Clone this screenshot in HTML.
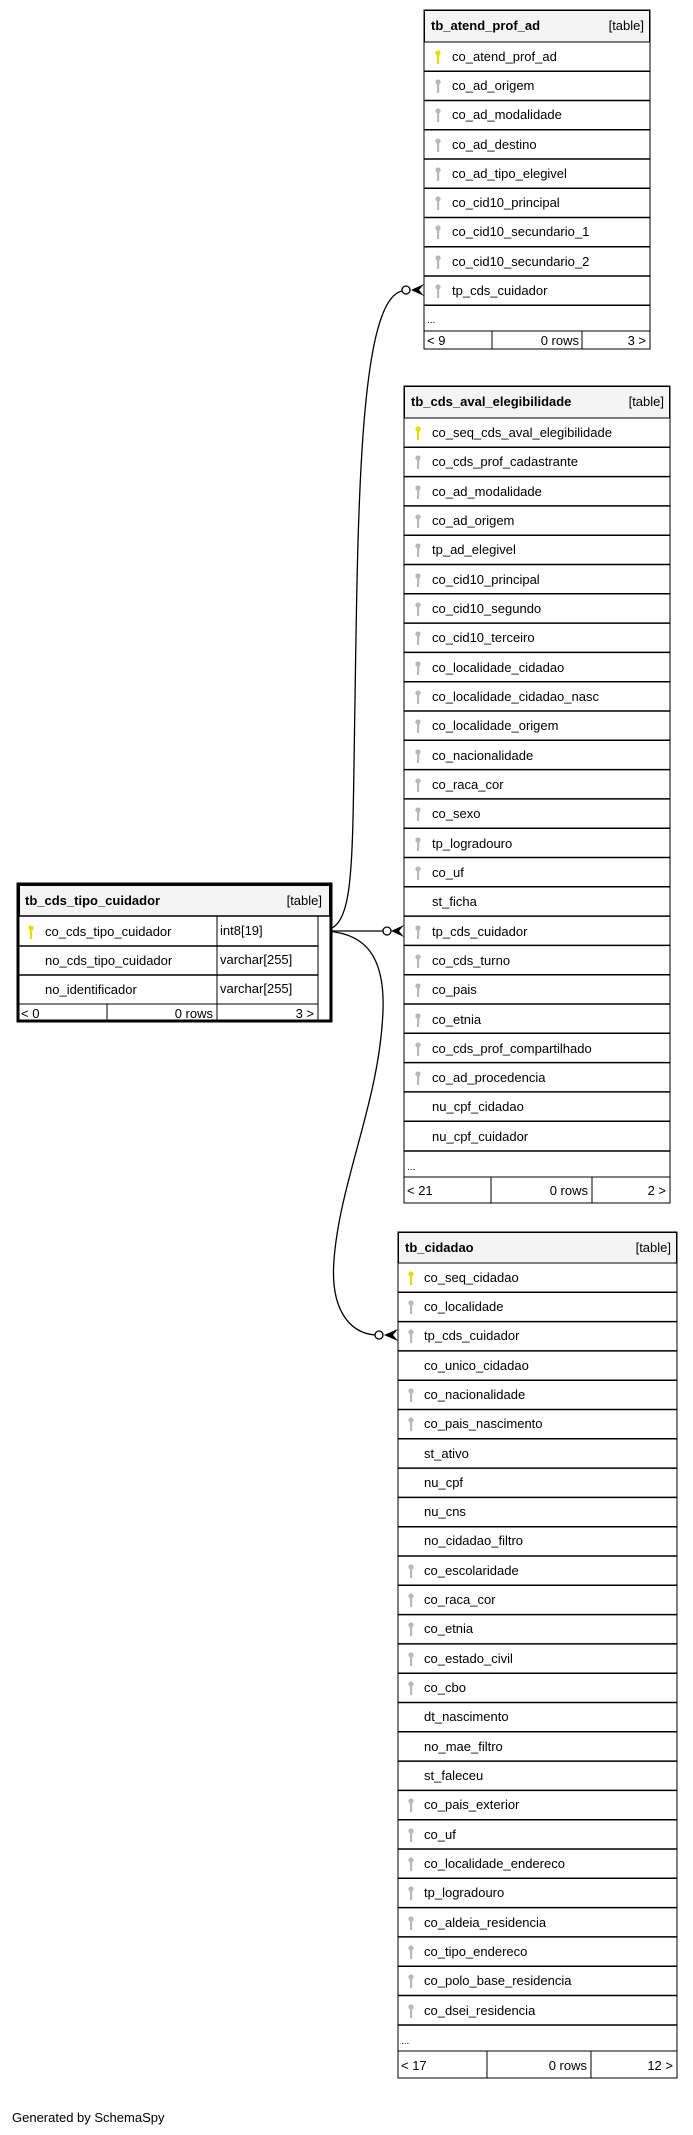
<!DOCTYPE html>
<html><head><meta charset="utf-8"><style>
html,body{margin:0;padding:0;background:#fff;}
svg{display:block;}
text{font-family:"Liberation Sans",Arial,sans-serif;font-size:13px;fill:#000;}
.b{font-weight:bold;}
</style></head><body>
<svg width="693" height="2135" viewBox="0 0 693 2135" xmlns="http://www.w3.org/2000/svg">
<defs>
<g id="pk"><circle cx="0" cy="-3" r="2.6" fill="#e6dc00"/><rect x="-1" y="-3" width="2.2" height="11" fill="#e6dc00"/></g>
<g id="fk"><circle cx="0" cy="-3" r="2.6" fill="#b8b8b8"/><rect x="-1" y="-3" width="2.2" height="11" fill="#b8b8b8"/></g>
</defs>

<g fill="none" stroke="#000" stroke-width="1.3">
<path d="M320,931 C 355,931 352,880 355,700 C 358,500 360,300 402,291"/>
<path d="M320,931 L383,931"/>
<path d="M320,931 C 360,931 385,950 383,1010 C 380,1100 340,1180 334,1260 C 330,1310 350,1333 375,1335"/>
<circle cx="406" cy="290" r="4" fill="#fff"/>
<circle cx="387" cy="931" r="4" fill="#fff"/>
<circle cx="379" cy="1335" r="4" fill="#fff"/>
</g>
<g fill="#000">
<polygon points="424,284 411,290 424,296 419,290"/>
<polygon points="404,925 391,931 404,937 399,931"/>
<polygon points="398,1329 384,1335 398,1341 393,1335"/>
</g>

<g>
<rect x="424" y="10" width="226" height="339" fill="#fff" stroke="#000" stroke-width="1"/>
<rect x="424.5" y="10.5" width="225" height="31.5" fill="#f4f4f4" stroke="#000"/>
<text x="431" y="30" class="b">tb_atend_prof_ad</text>
<text x="644" y="30" text-anchor="end">[table]</text>
<g stroke="#000" stroke-width="1.5">
<line x1="424" y1="71.25" x2="650" y2="71.25"/><line x1="424" y1="100.5" x2="650" y2="100.5"/>
<line x1="424" y1="129.75" x2="650" y2="129.75"/><line x1="424" y1="159" x2="650" y2="159"/>
<line x1="424" y1="188.25" x2="650" y2="188.25"/><line x1="424" y1="217.5" x2="650" y2="217.5"/>
<line x1="424" y1="246.75" x2="650" y2="246.75"/><line x1="424" y1="276" x2="650" y2="276"/>
<line x1="424" y1="305.25" x2="650" y2="305.25"/><line x1="424" y1="331" x2="650" y2="331" stroke-width="1"/>
<line x1="492" y1="331" x2="492" y2="349" stroke-width="1"/><line x1="582" y1="331" x2="582" y2="349" stroke-width="1"/>
</g>
<use href="#pk" x="438" y="56"/><text x="452" y="61">co_atend_prof_ad</text>
<use href="#fk" x="438" y="85"/><text x="452" y="90">co_ad_origem</text>
<use href="#fk" x="438" y="114"/><text x="452" y="119">co_ad_modalidade</text>
<use href="#fk" x="438" y="144"/><text x="452" y="149">co_ad_destino</text>
<use href="#fk" x="438" y="173"/><text x="452" y="178">co_ad_tipo_elegivel</text>
<use href="#fk" x="438" y="202"/><text x="452" y="207">co_cid10_principal</text>
<use href="#fk" x="438" y="231"/><text x="452" y="236">co_cid10_secundario_1</text>
<use href="#fk" x="438" y="261"/><text x="452" y="266">co_cid10_secundario_2</text>
<use href="#fk" x="438" y="290"/><text x="452" y="295">tp_cds_cuidador</text>
<text x="427" y="323" style="font-size:10px">...</text>
<text x="427" y="345">&lt; 9</text>
<text x="579" y="345" text-anchor="end">0 rows</text>
<text x="646" y="345" text-anchor="end">3 &gt;</text>
</g>

<g>
<rect x="404" y="386" width="266" height="817" fill="#fff" stroke="#000"/>
<rect x="404.5" y="386.5" width="265" height="31.5" fill="#f4f4f4" stroke="#000"/>
<text x="411" y="406" class="b">tb_cds_aval_elegibilidade</text>
<text x="664" y="406" text-anchor="end">[table]</text>
<g stroke="#000" stroke-width="1.5">
<line x1="404" y1="447.3" x2="670" y2="447.3"/><line x1="404" y1="476.6" x2="670" y2="476.6"/>
<line x1="404" y1="505.9" x2="670" y2="505.9"/><line x1="404" y1="535.2" x2="670" y2="535.2"/>
<line x1="404" y1="564.5" x2="670" y2="564.5"/><line x1="404" y1="593.8" x2="670" y2="593.8"/>
<line x1="404" y1="623.1" x2="670" y2="623.1"/><line x1="404" y1="652.4" x2="670" y2="652.4"/>
<line x1="404" y1="681.7" x2="670" y2="681.7"/><line x1="404" y1="711" x2="670" y2="711"/>
<line x1="404" y1="740.3" x2="670" y2="740.3"/><line x1="404" y1="769.6" x2="670" y2="769.6"/>
<line x1="404" y1="798.9" x2="670" y2="798.9"/><line x1="404" y1="828.2" x2="670" y2="828.2"/>
<line x1="404" y1="857.5" x2="670" y2="857.5"/><line x1="404" y1="886.8" x2="670" y2="886.8"/>
<line x1="404" y1="916.1" x2="670" y2="916.1"/><line x1="404" y1="945.4" x2="670" y2="945.4"/>
<line x1="404" y1="974.7" x2="670" y2="974.7"/><line x1="404" y1="1004" x2="670" y2="1004"/>
<line x1="404" y1="1033.3" x2="670" y2="1033.3"/><line x1="404" y1="1062.6" x2="670" y2="1062.6"/>
<line x1="404" y1="1091.9" x2="670" y2="1091.9"/><line x1="404" y1="1121.2" x2="670" y2="1121.2"/>
<line x1="404" y1="1151" x2="670" y2="1151"/><line x1="404" y1="1177" x2="670" y2="1177" stroke-width="1"/>
<line x1="491" y1="1177" x2="491" y2="1203" stroke-width="1"/><line x1="592" y1="1177" x2="592" y2="1203" stroke-width="1"/>
</g>
<use href="#pk" x="418" y="432"/><text x="432" y="437">co_seq_cds_aval_elegibilidade</text>
<use href="#fk" x="418" y="461"/><text x="432" y="466">co_cds_prof_cadastrante</text>
<use href="#fk" x="418" y="491"/><text x="432" y="496">co_ad_modalidade</text>
<use href="#fk" x="418" y="520"/><text x="432" y="525">co_ad_origem</text>
<use href="#fk" x="418" y="549"/><text x="432" y="554">tp_ad_elegivel</text>
<use href="#fk" x="418" y="579"/><text x="432" y="584">co_cid10_principal</text>
<use href="#fk" x="418" y="608"/><text x="432" y="613">co_cid10_segundo</text>
<use href="#fk" x="418" y="637"/><text x="432" y="642">co_cid10_terceiro</text>
<use href="#fk" x="418" y="667"/><text x="432" y="672">co_localidade_cidadao</text>
<use href="#fk" x="418" y="696"/><text x="432" y="701">co_localidade_cidadao_nasc</text>
<use href="#fk" x="418" y="725"/><text x="432" y="730">co_localidade_origem</text>
<use href="#fk" x="418" y="755"/><text x="432" y="760">co_nacionalidade</text>
<use href="#fk" x="418" y="784"/><text x="432" y="789">co_raca_cor</text>
<use href="#fk" x="418" y="813"/><text x="432" y="818">co_sexo</text>
<use href="#fk" x="418" y="843"/><text x="432" y="848">tp_logradouro</text>
<use href="#fk" x="418" y="872"/><text x="432" y="877">co_uf</text>
<text x="432" y="906">st_ficha</text>
<use href="#fk" x="418" y="931"/><text x="432" y="936">tp_cds_cuidador</text>
<use href="#fk" x="418" y="960"/><text x="432" y="965">co_cds_turno</text>
<use href="#fk" x="418" y="989"/><text x="432" y="994">co_pais</text>
<use href="#fk" x="418" y="1019"/><text x="432" y="1024">co_etnia</text>
<use href="#fk" x="418" y="1048"/><text x="432" y="1053">co_cds_prof_compartilhado</text>
<use href="#fk" x="418" y="1077"/><text x="432" y="1082">co_ad_procedencia</text>
<text x="432" y="1111">nu_cpf_cidadao</text>
<text x="432" y="1141">nu_cpf_cuidador</text>
<text x="407" y="1170" style="font-size:10px">...</text>
<text x="407" y="1195">&lt; 21</text>
<text x="588" y="1195" text-anchor="end">0 rows</text>
<text x="666" y="1195" text-anchor="end">2 &gt;</text>
</g>

<g>
<rect x="398" y="1232" width="279" height="846" fill="#fff" stroke="#000"/>
<rect x="398.5" y="1232.5" width="278" height="30.5" fill="#f4f4f4" stroke="#000"/>
<text x="405" y="1252" class="b">tb_cidadao</text>
<text x="671" y="1252" text-anchor="end">[table]</text>
<g stroke="#000" stroke-width="1.5">
<line x1="398" y1="1292.3" x2="677" y2="1292.3"/><line x1="398" y1="1321.6" x2="677" y2="1321.6"/>
<line x1="398" y1="1350.9" x2="677" y2="1350.9"/><line x1="398" y1="1380.2" x2="677" y2="1380.2"/>
<line x1="398" y1="1409.5" x2="677" y2="1409.5"/><line x1="398" y1="1438.8" x2="677" y2="1438.8"/>
<line x1="398" y1="1468.1" x2="677" y2="1468.1"/><line x1="398" y1="1497.4" x2="677" y2="1497.4"/>
<line x1="398" y1="1526.7" x2="677" y2="1526.7"/><line x1="398" y1="1556" x2="677" y2="1556"/>
<line x1="398" y1="1585.3" x2="677" y2="1585.3"/><line x1="398" y1="1614.6" x2="677" y2="1614.6"/>
<line x1="398" y1="1643.9" x2="677" y2="1643.9"/><line x1="398" y1="1673.2" x2="677" y2="1673.2"/>
<line x1="398" y1="1702.5" x2="677" y2="1702.5"/><line x1="398" y1="1731.8" x2="677" y2="1731.8"/>
<line x1="398" y1="1761.1" x2="677" y2="1761.1"/><line x1="398" y1="1790.4" x2="677" y2="1790.4"/>
<line x1="398" y1="1819.7" x2="677" y2="1819.7"/><line x1="398" y1="1849" x2="677" y2="1849"/>
<line x1="398" y1="1878.3" x2="677" y2="1878.3"/><line x1="398" y1="1907.6" x2="677" y2="1907.6"/>
<line x1="398" y1="1936.9" x2="677" y2="1936.9"/><line x1="398" y1="1966.2" x2="677" y2="1966.2"/>
<line x1="398" y1="1995.5" x2="677" y2="1995.5"/><line x1="398" y1="2025" x2="677" y2="2025"/>
<line x1="398" y1="2051" x2="677" y2="2051" stroke-width="1"/>
<line x1="487" y1="2051" x2="487" y2="2078" stroke-width="1"/><line x1="591" y1="2051" x2="591" y2="2078" stroke-width="1"/>
</g>
<use href="#pk" x="411" y="1277"/><text x="424" y="1282">co_seq_cidadao</text>
<use href="#fk" x="411" y="1306"/><text x="424" y="1311">co_localidade</text>
<use href="#fk" x="411" y="1335"/><text x="424" y="1340">tp_cds_cuidador</text>
<text x="424" y="1370">co_unico_cidadao</text>
<use href="#fk" x="411" y="1394"/><text x="424" y="1399">co_nacionalidade</text>
<use href="#fk" x="411" y="1423"/><text x="424" y="1428">co_pais_nascimento</text>
<text x="424" y="1458">st_ativo</text>
<text x="424" y="1487">nu_cpf</text>
<text x="424" y="1516">nu_cns</text>
<text x="424" y="1545">no_cidadao_filtro</text>
<use href="#fk" x="411" y="1570"/><text x="424" y="1575">co_escolaridade</text>
<use href="#fk" x="411" y="1599"/><text x="424" y="1604">co_raca_cor</text>
<use href="#fk" x="411" y="1628"/><text x="424" y="1633">co_etnia</text>
<use href="#fk" x="411" y="1658"/><text x="424" y="1663">co_estado_civil</text>
<use href="#fk" x="411" y="1687"/><text x="424" y="1692">co_cbo</text>
<text x="424" y="1721">dt_nascimento</text>
<text x="424" y="1751">no_mae_filtro</text>
<text x="424" y="1780">st_faleceu</text>
<use href="#fk" x="411" y="1804"/><text x="424" y="1809">co_pais_exterior</text>
<use href="#fk" x="411" y="1834"/><text x="424" y="1839">co_uf</text>
<use href="#fk" x="411" y="1863"/><text x="424" y="1868">co_localidade_endereco</text>
<use href="#fk" x="411" y="1892"/><text x="424" y="1897">tp_logradouro</text>
<use href="#fk" x="411" y="1922"/><text x="424" y="1927">co_aldeia_residencia</text>
<use href="#fk" x="411" y="1951"/><text x="424" y="1956">co_tipo_endereco</text>
<use href="#fk" x="411" y="1980"/><text x="424" y="1985">co_polo_base_residencia</text>
<use href="#fk" x="411" y="2010"/><text x="424" y="2015">co_dsei_residencia</text>
<text x="401" y="2044" style="font-size:10px">...</text>
<text x="401" y="2070">&lt; 17</text>
<text x="587" y="2070" text-anchor="end">0 rows</text>
<text x="673" y="2070" text-anchor="end">12 &gt;</text>
</g>

<g>
<rect x="18" y="884" width="313" height="137" fill="#fff" stroke="#000" stroke-width="3"/>
<rect x="19.5" y="885.5" width="310" height="30.5" fill="#f4f4f4" stroke="#000"/>
<text x="25" y="905" class="b">tb_cds_tipo_cuidador</text>
<text x="322" y="905" text-anchor="end">[table]</text>
<g stroke="#000" stroke-width="1.5">
<line x1="18" y1="916" x2="331" y2="916"/>
<line x1="18" y1="946" x2="318" y2="946"/>
<line x1="18" y1="975" x2="318" y2="975"/>
<line x1="18" y1="1004" x2="318" y2="1004" stroke-width="1"/>
<line x1="217" y1="916" x2="217" y2="1021" stroke-width="1"/>
<line x1="318" y1="916" x2="318" y2="1021" stroke-width="1"/>
<line x1="107" y1="1004" x2="107" y2="1021" stroke-width="1"/>
</g>
<use href="#pk" x="31" y="931"/><text x="45" y="936">co_cds_tipo_cuidador</text>
<text x="220" y="935">int8[19]</text>
<text x="45" y="965">no_cds_tipo_cuidador</text>
<text x="220" y="964">varchar[255]</text>
<text x="45" y="994">no_identificador</text>
<text x="220" y="993">varchar[255]</text>
<text x="21" y="1018">&lt; 0</text>
<text x="213" y="1018" text-anchor="end">0 rows</text>
<text x="314" y="1018" text-anchor="end">3 &gt;</text>
</g>

<text x="12" y="2122">Generated by SchemaSpy</text>
</svg>
</body></html>
